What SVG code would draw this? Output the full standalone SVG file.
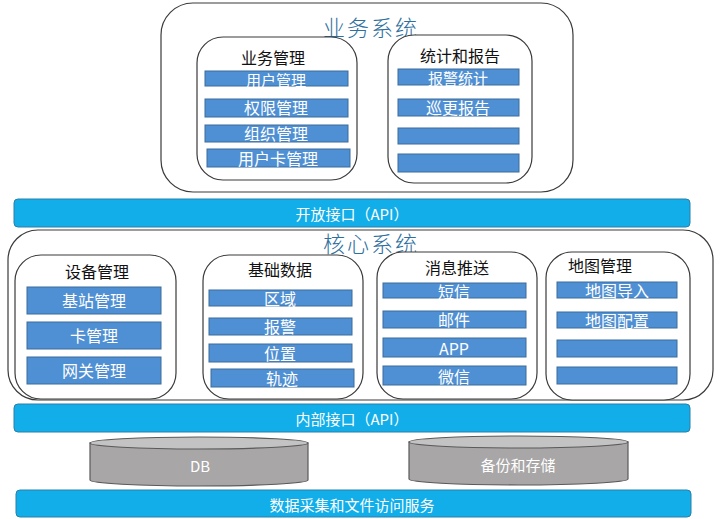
<svg xmlns="http://www.w3.org/2000/svg" width="724" height="519" viewBox="0 0 724 519">
<style>
text{font-family:"Noto Sans CJK SC","Liberation Sans",sans-serif;text-anchor:middle;dominant-baseline:central}
.frame{fill:#fff;stroke:#3a3a3a;stroke-width:1.2}
.sys{font-size:22px;fill:#2e6f9e;font-weight:300;letter-spacing:2px}
.title{font-size:16px;fill:#111}
.bar{fill:#4f8fd3;stroke:#3b6c9c;stroke-width:1}
.bt{font-size:16px;fill:#fff}
.bs{font-size:15px;fill:#fff}
.api{fill:#11aeea;stroke:#2a7fa8;stroke-width:1}
.at{font-size:15px;fill:#fff}
.cyl{fill:#a8a6a6;stroke:#5a5a5a;stroke-width:1.2}
.cyltop{fill:#c4c3c3;stroke:#5a5a5a;stroke-width:1.2}
.ct{font-size:15px;fill:#fff}
</style>
<rect width="724" height="519" fill="#fff"/>

<g id="business-system">
<rect class="frame" x="161" y="3" width="412" height="189" rx="32"/>
<text class="sys" x="371" y="26">业务系统</text>
</g>
<g id="business-mgmt">
<rect class="frame" x="197" y="37" width="160" height="143" rx="26"/>
<text class="title" x="273" y="57">业务管理</text>
<rect class="bar" x="205" y="71" width="143" height="15"/><text class="bs" x="276" y="79">用户管理</text>
<rect class="bar" x="205" y="99" width="143" height="18"/><text class="bt" x="276" y="107">权限管理</text>
<rect class="bar" x="205" y="125" width="143" height="17"/><text class="bt" x="276" y="133">组织管理</text>
<rect class="bar" x="207" y="149" width="143" height="18"/><text class="bt" x="278" y="158">用户卡管理</text>
</g>
<g id="stats-report">
<rect class="frame" x="388" y="35" width="144" height="148" rx="26"/>
<text class="title" x="460" y="55">统计和报告</text>
<rect class="bar" x="398" y="69" width="121" height="16"/><text class="bs" x="458" y="77.5">报警统计</text>
<rect class="bar" x="398" y="99" width="121" height="17"/><text class="bt" x="458" y="107">巡更报告</text>
<rect class="bar" x="398" y="128" width="121" height="16"/>
<rect class="bar" x="398" y="154" width="121" height="18"/>
</g>

<g id="open-api">
<rect class="api" x="14" y="199" width="676" height="28" rx="4"/>
<text class="at" x="352" y="213">开放接口（API）</text>
</g>

<g id="core-system">
<rect class="frame" x="8" y="230" width="705" height="170" rx="30"/>
<text class="sys" x="371" y="242">核心系统</text>
</g>
<g id="device-mgmt">
<rect class="frame" x="15" y="255" width="161" height="144" rx="26"/>
<text class="title" x="97" y="271">设备管理</text>
<rect class="bar" x="27" y="287" width="134" height="27"/><text class="bt" x="94" y="300">基站管理</text>
<rect class="bar" x="27" y="322" width="134" height="27"/><text class="bt" x="94" y="335">卡管理</text>
<rect class="bar" x="27" y="357" width="134" height="27"/><text class="bt" x="94" y="370">网关管理</text>
</g>
<g id="basic-data">
<rect class="frame" x="203" y="255" width="160" height="144" rx="26"/>
<text class="title" x="280" y="269">基础数据</text>
<rect class="bar" x="209" y="290" width="143" height="16"/><text class="bt" x="280" y="298">区域</text>
<rect class="bar" x="209" y="318" width="143" height="17"/><text class="bt" x="280" y="326">报警</text>
<rect class="bar" x="209" y="344" width="143" height="18"/><text class="bt" x="280" y="353">位置</text>
<rect class="bar" x="211" y="369" width="143" height="18"/><text class="bt" x="282" y="378">轨迹</text>
</g>
<g id="msg-push">
<rect class="frame" x="377" y="252" width="160" height="147" rx="26"/>
<text class="title" x="457" y="267">消息推送</text>
<rect class="bar" x="383" y="283" width="143" height="15"/><text class="bt" x="454" y="290.5">短信</text>
<rect class="bar" x="383" y="311" width="143" height="17"/><text class="bt" x="454" y="319">邮件</text>
<rect class="bar" x="383" y="338" width="143" height="19"/><text class="bt" x="454" y="348">APP</text>
<rect class="bar" x="383" y="366" width="143" height="19"/><text class="bt" x="454" y="376">微信</text>
</g>
<g id="map-mgmt">
<rect class="frame" x="546" y="252" width="144" height="148" rx="26"/>
<text class="title" x="600" y="265">地图管理</text>
<rect class="bar" x="557" y="282" width="120" height="16"/><text class="bt" x="617" y="290">地图导入</text>
<rect class="bar" x="557" y="312" width="120" height="16"/><text class="bt" x="617" y="320">地图配置</text>
<rect class="bar" x="557" y="340" width="120" height="17"/>
<rect class="bar" x="557" y="367" width="120" height="17"/>
</g>

<g id="internal-api">
<rect class="api" x="14" y="404" width="676" height="28" rx="4"/>
<text class="at" x="352" y="418">内部接口（API）</text>
</g>

<g id="db">
<path class="cyl" d="M90,443 L90,480 A109,6 0 0 0 308,480 L308,443 Z"/>
<ellipse class="cyltop" cx="199" cy="443" rx="109" ry="6"/>
<text class="ct" x="200" y="465">DB</text>
</g>
<g id="backup">
<path class="cyl" d="M409,442 L409,479 A109.5,6 0 0 0 628,479 L628,442 Z"/>
<ellipse class="cyltop" cx="518.5" cy="442" rx="109.5" ry="6"/>
<text class="ct" x="518" y="464">备份和存储</text>
</g>

<g id="data-service">
<rect class="api" x="16" y="490" width="675" height="27" rx="4"/>
<text class="at" x="352" y="504">数据采集和文件访问服务</text>
</g>

<g id="connectors"></g>
</svg>
